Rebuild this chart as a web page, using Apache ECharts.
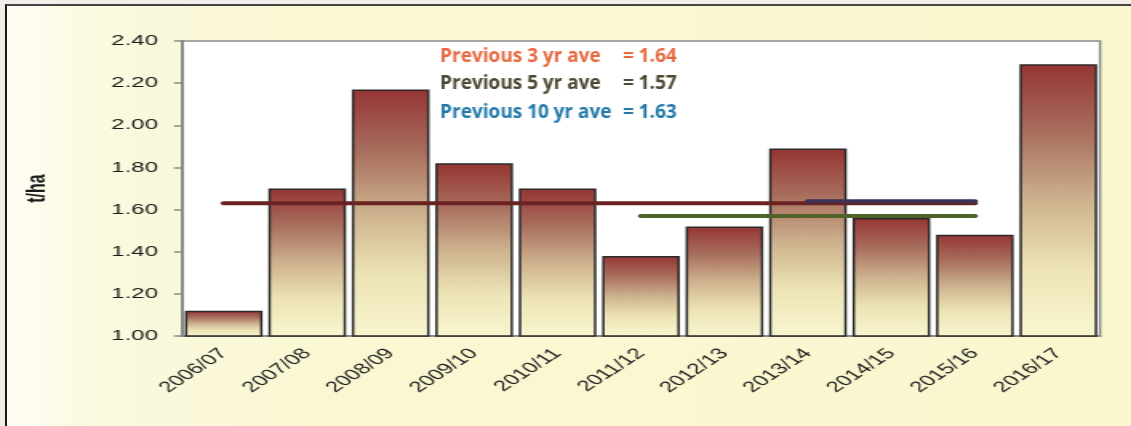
<!DOCTYPE html>
<html><head><meta charset="utf-8">
<script src="https://cdn.jsdelivr.net/npm/echarts@6/dist/echarts.min.js"></script>
<style>
html,body{margin:0;padding:0;width:1131px;height:426px;overflow:hidden;background:#F3EEEA;}
#frame{position:absolute;left:5px;top:4px;right:0;bottom:0;border-left:2px solid #1a1a1a;border-top:2px solid #444;background:linear-gradient(to right,#FEFDF4 0%,#FBF9DF 8%,#FAF7D2 30%,#FAF7CF 100%);}
#chart{position:absolute;left:0;top:0;width:707px;height:426px;transform:scaleX(1.59972);transform-origin:0 0;}
</style></head>
<body><div id="frame"></div><div id="chart"></div>
<script>
// ---- data ----
const categories = ['2006/07','2007/08','2008/09','2009/10','2010/11','2011/12','2012/13','2013/14','2014/15','2015/16','2016/17'];
const yields = [1.12, 1.70, 2.17, 1.82, 1.70, 1.38, 1.52, 1.89, 1.56, 1.48, 2.29];
const aveNames = ['Previous 3 yr ave', 'Previous 5 yr ave', 'Previous 10 yr ave'];
const aveValues = [1.64, 1.57, 1.63];
const aveStart = [7, 5, 0];   // first category index of each average line
const aveEnd = [9, 9, 9];     // last category index of each average line
const yMin = 1.0, yMax = 2.4, yStep = 0.2;
const yUnit = 't/ha';

// ---- styling ----
const S = 1131 / 707;
const lineColors = ['#3F3152', '#4F6228', '#6B2222'];
const textColors = ['#E7683E', '#4A4630', '#1F78A8'];

function spanData(i) {
  return categories.map((c, k) => (k >= aveStart[i] && k <= aveEnd[i]) ? aveValues[i] : null);
}

const barGrad = new echarts.graphic.LinearGradient(0, 0, 0, 1, [
  {offset: 0, color: '#963534'},
  {offset: 0.25, color: '#A86E5E'},
  {offset: 0.5, color: '#CDB28E'},
  {offset: 0.75, color: '#EDE4B6'},
  {offset: 1, color: '#F9F6D0'}
]);

const lineOrder = [2, 1, 0];
const lineSeries = lineOrder.map(i => ({
  type: 'line', name: aveNames[i], data: spanData(i), symbol: 'none', z: 5 + (2 - i),
  lineStyle: {color: lineColors[i], width: 4, cap: 'round'}, silent: true
}));

const graphics = [];
const rowY = [57, 84, 113];
for (let i = 0; i < 3; i++) {
  graphics.push({type: 'text', x: 440 / S, y: rowY[i], scaleX: 1 / S, z: 100,
    style: {text: aveNames[i], fill: textColors[i], font: 'bold 19px "Open Sans"', textVerticalAlign: 'middle'}});
  graphics.push({type: 'text', x: 623 / S, y: rowY[i], scaleX: 1 / S, z: 100,
    style: {text: '= ' + aveValues[i].toFixed(2), fill: textColors[i], font: 'bold 19px "Open Sans"', textVerticalAlign: 'middle'}});
}

const chart = echarts.init(document.getElementById('chart'), null, {renderer: 'canvas'});
chart.setOption({
  animation: false,
  backgroundColor: 'transparent',
  grid: {left: 182 / S, right: 707 - 1100 / S, top: 41, bottom: 426 - 336,
    show: true, backgroundColor: '#ffffff', borderColor: '#8a8a8a', borderWidth: 1.5},
  xAxis: {
    type: 'category', data: categories,
    axisLine: {lineStyle: {color: '#8a8a8a', width: 2}},
    axisTick: {show: false},
    axisLabel: {rotate: 46, margin: 15, fontFamily: 'Liberation Sans, Arial', fontSize: 15, color: '#1a1a1a', interval: 0}
  },
  yAxis: {
    type: 'value', min: yMin, max: yMax, interval: yStep,
    name: yUnit, nameLocation: 'middle', nameGap: 82,
    nameTextStyle: {fontFamily: 'Liberation Sans, Arial', fontWeight: 'bold', fontSize: 16, color: '#1a1a1a'},
    axisLine: {show: true, lineStyle: {color: '#8a8a8a', width: 2}},
    axisTick: {show: true, length: 5, lineStyle: {color: '#8a8a8a', width: 1.5}},
    splitLine: {show: false},
    axisLabel: {margin: 15, fontFamily: 'Liberation Sans, Arial', fontSize: 15, color: '#1a1a1a',
      formatter: v => v.toFixed(2)}
  },
  series: [{
    type: 'bar', data: yields, barCategoryGap: '7%', silent: true,
    itemStyle: {color: barGrad, borderColor: '#2a2a2a', borderWidth: 1.5}
  }].concat(lineSeries),
  graphic: graphics
});
</script>
</body></html>
